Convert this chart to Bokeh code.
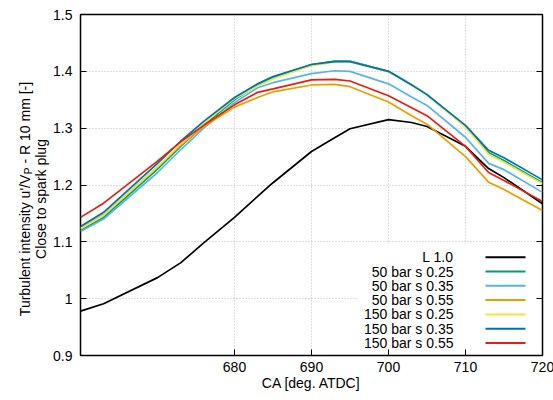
import math
from bokeh.plotting import figure
from bokeh.layouts import row
from bokeh.models import (Range1d, FixedTicker, LinearAxis, CustomJSTickFormatter,
                          Label, BoxAnnotation)
from bokeh.embed import file_html
from bokeh.resources import INLINE

# ---- data ----
ca = [660, 663, 670, 673, 676, 680, 683, 685, 690, 693, 695, 700, 703, 705, 710, 713, 715, 720]

l_10 = [0.978, 0.991, 1.037, 1.063, 1.098, 1.143, 1.180, 1.204, 1.259, 1.283, 1.299, 1.315,
        1.310, 1.303, 1.268, 1.229, 1.213, 1.167]
bar50_s025 = [1.120, 1.143, 1.228, 1.268, 1.305, 1.350, 1.376, 1.389, 1.412, 1.418, 1.418, 1.400,
              1.377, 1.359, 1.303, 1.257, 1.243, 1.204]
bar50_s035 = [1.118, 1.140, 1.222, 1.262, 1.300, 1.345, 1.371, 1.380, 1.396, 1.401, 1.400, 1.378,
              1.355, 1.340, 1.284, 1.238, 1.227, 1.187]
bar50_s055 = [1.125, 1.148, 1.232, 1.270, 1.303, 1.337, 1.354, 1.364, 1.376, 1.377, 1.373, 1.346,
              1.322, 1.307, 1.250, 1.205, 1.192, 1.155]
bar150_s025 = [1.123, 1.147, 1.232, 1.272, 1.308, 1.352, 1.374, 1.387, 1.410, 1.416, 1.417, 1.399,
               1.377, 1.360, 1.302, 1.254, 1.240, 1.202]
bar150_s035 = [1.127, 1.152, 1.238, 1.277, 1.312, 1.354, 1.378, 1.391, 1.412, 1.417, 1.417, 1.400,
               1.376, 1.359, 1.305, 1.261, 1.248, 1.209]
bar150_s055 = [1.143, 1.168, 1.242, 1.276, 1.305, 1.341, 1.363, 1.369, 1.385, 1.386, 1.383, 1.357,
               1.336, 1.322, 1.268, 1.222, 1.208, 1.171]

series_names = ["L 1.0", "50 bar s 0.25", "50 bar s 0.35", "50 bar s 0.55",
                "150 bar s 0.25", "150 bar s 0.35", "150 bar s 0.55"]
series_values = [l_10, bar50_s025, bar50_s035, bar50_s055, bar150_s025, bar150_s035, bar150_s055]
series_colors = ["#000000", "#009e73", "#56b4e9", "#e69f00", "#f0e442", "#0072b2", "#e51e10"]

x_ticks = [680, 690, 700, 710, 720]
y_ticks = [0.9, 1.0, 1.1, 1.2, 1.3, 1.4, 1.5]

FONT = "Liberation Sans"
FS = "14px"

FW, FH = 462, 341
TOP, BOTTOM = 14, 44
TOTAL_H = TOP + FH + BOTTOM  # 399
LBL_W = 50

p = figure(frame_width=FW, frame_height=FH, output_backend="svg", toolbar_location=None,
           x_range=Range1d(660, 720), y_range=Range1d(0.9, 1.5),
           min_border_left=28, min_border_right=12, min_border_top=TOP,
           min_border_bottom=BOTTOM)
p.background_fill_color = "white"
p.border_fill_color = "white"
p.outline_line_color = "#000000"
p.outline_line_width = 1.5

for ax in (p.xaxis[0], p.yaxis[0]):
    ax.major_tick_in = 6
    ax.major_tick_out = 0
    ax.minor_tick_line_color = None
    ax.axis_line_color = None
    ax.major_tick_line_color = "#000000"
    ax.major_label_text_font = FONT
    ax.major_label_text_font_size = FS
    ax.major_label_text_color = "#000000"
    ax.axis_label_text_font = FONT
    ax.axis_label_text_font_size = FS
    ax.axis_label_text_font_style = "normal"
    ax.axis_label_text_color = "#000000"

p.xaxis[0].ticker = FixedTicker(ticks=x_ticks)
p.yaxis[0].ticker = FixedTicker(ticks=y_ticks)
p.yaxis[0].formatter = CustomJSTickFormatter(code="return String(Math.round(tick*10)/10);")
p.xaxis[0].major_label_standoff = 6
p.xaxis[0].axis_label = "CA [deg. ATDC]"
p.xaxis[0].axis_label_standoff = 0
p.yaxis[0].major_label_standoff = 8

# mirror ticks on the right
ra = LinearAxis(ticker=FixedTicker(ticks=y_ticks),
                formatter=CustomJSTickFormatter(code="return '';"),
                major_tick_in=6, major_tick_out=0, minor_tick_line_color=None,
                axis_line_color=None, major_label_standoff=0,
                major_label_text_font_size="1px")
p.add_layout(ra, "right")

p.xgrid.ticker = FixedTicker(ticks=[680, 690, 700, 710])
p.ygrid.ticker = FixedTicker(ticks=[1.0, 1.1, 1.2, 1.3, 1.4])
for g in (p.xgrid[0], p.ygrid[0]):
    g.grid_line_color = "#bdbdbd"
    g.grid_line_dash = "1 2"
    g.grid_line_width = 1

for vals, col in zip(series_values, series_colors):
    p.line(ca, vals, line_color=col, line_width=1.7)

# legend (gnuplot style: text right-aligned, sample on the right)
p.add_layout(BoxAnnotation(left=277, right=455, bottom=7, top=112,
                           left_units="screen", right_units="screen",
                           top_units="screen", bottom_units="screen",
                           fill_color="white", fill_alpha=1.0, line_color=None))
for i, (name, col) in enumerate(zip(series_names, series_colors)):
    yc = 98.3 - 14.3 * i
    p.add_layout(Label(x=373, y=yc, x_units="screen", y_units="screen", text=name,
                       text_font=FONT, text_font_size=FS, text_align="right",
                       text_baseline="middle", text_color="#000000"))
    p.add_layout(BoxAnnotation(left=405, right=445, bottom=yc - 1, top=yc + 1,
                               left_units="screen", right_units="screen",
                               top_units="screen", bottom_units="screen",
                               fill_color=col, fill_alpha=1.0, line_color=None))

# ---- y-axis title in a narrow side panel (two lines, subscript P) ----
lbl = figure(frame_width=LBL_W, frame_height=TOTAL_H, output_backend="svg",
             toolbar_location=None, x_range=Range1d(0, LBL_W), y_range=Range1d(0, TOTAL_H),
             x_axis_type=None, y_axis_type=None,
             min_border_left=0, min_border_right=0, min_border_top=0, min_border_bottom=0)
lbl.outline_line_color = None
lbl.background_fill_color = "white"
lbl.border_fill_color = "white"
lbl.xgrid.visible = False
lbl.ygrid.visible = False

ang = math.pi / 2
yc_page = TOP + FH / 2          # vertical centre of the plot frame (page px)
yc_data = TOTAL_H - yc_page
w1 = 142.0   # width of "Turbulent intensity u'/V"
wp = 6.7     # width of subscript "P"
ws = 3.9     # width of a space
w3 = 81.7    # width of "- R 10 mm [-]"
y0 = yc_data - (w1 + wp + ws + w3) / 2
lbl.add_layout(Label(x=24, y=y0, text="Turbulent intensity u'/V", angle=ang,
                     text_font=FONT, text_font_size=FS, text_align="left",
                     text_baseline="middle", text_color="#000000"))
lbl.add_layout(Label(x=27.5, y=y0 + w1, text="P", angle=ang,
                     text_font=FONT, text_font_size="10px", text_align="left",
                     text_baseline="middle", text_color="#000000"))
lbl.add_layout(Label(x=24, y=y0 + w1 + wp + ws, text="- R 10 mm [-]", angle=ang,
                     text_font=FONT, text_font_size=FS, text_align="left",
                     text_baseline="middle", text_color="#000000"))
lbl.add_layout(Label(x=40, y=yc_data, text="Close to spark plug", angle=ang,
                     text_font=FONT, text_font_size=FS, text_align="center",
                     text_baseline="middle", text_color="#000000"))

layout = row(lbl, p, spacing=0)
open("out.html", "w").write(file_html(layout, INLINE))
